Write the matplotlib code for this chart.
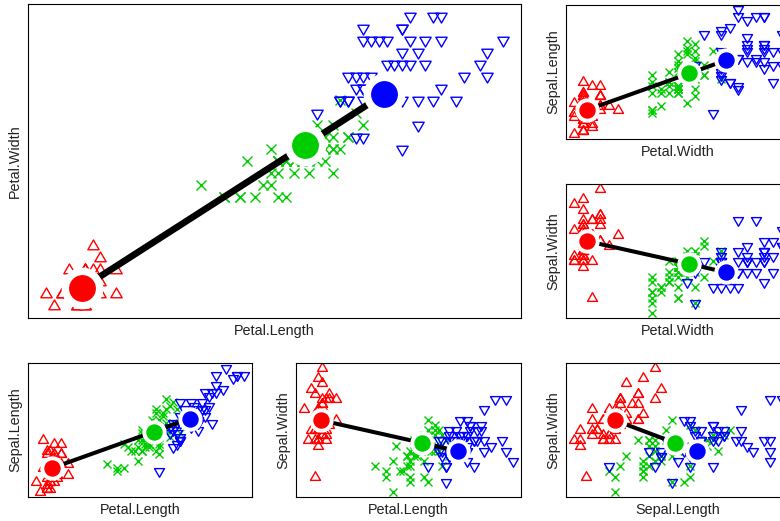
"""Iris cluster panels: points by species, centroids joined by thick segments"""

import numpy as np
import matplotlib
matplotlib.use("Agg")
import matplotlib.pyplot as plt
from matplotlib.path import Path

plt.rcParams['font.family'] = ['Liberation Sans', 'DejaVu Sans']

# iris measurements, rows 1-50 setosa, 51-100 versicolor, 101-150 virginica
sepal_length = [
    5.1, 4.9, 4.7, 4.6, 5.0, 5.4, 4.6, 5.0, 4.4, 4.9, 5.4, 4.8, 4.8, 4.3, 5.8, 5.7, 5.4, 5.1, 5.7, 5.1,
    5.4, 5.1, 4.6, 5.1, 4.8, 5.0, 5.0, 5.2, 5.2, 4.7, 4.8, 5.4, 5.2, 5.5, 4.9, 5.0, 5.5, 4.9, 4.4, 5.1,
    5.0, 4.5, 4.4, 5.0, 5.1, 4.8, 5.1, 4.6, 5.3, 5.0,
    7.0, 6.4, 6.9, 5.5, 6.5, 5.7, 6.3, 4.9, 6.6, 5.2, 5.0, 5.9, 6.0, 6.1, 5.6, 6.7, 5.6, 5.8, 6.2, 5.6,
    5.9, 6.1, 6.3, 6.1, 6.4, 6.6, 6.8, 6.7, 6.0, 5.7, 5.5, 5.5, 5.8, 6.0, 5.4, 6.0, 6.7, 6.3, 5.6, 5.5,
    5.5, 6.1, 5.8, 5.0, 5.6, 5.7, 5.7, 6.2, 5.1, 5.7,
    6.3, 5.8, 7.1, 6.3, 6.5, 7.6, 4.9, 7.3, 6.7, 7.2, 6.5, 6.4, 6.8, 5.7, 5.8, 6.4, 6.5, 7.7, 7.7, 6.0,
    6.9, 5.6, 7.7, 6.3, 6.7, 7.2, 6.2, 6.1, 6.4, 7.2, 7.4, 7.9, 6.4, 6.3, 6.1, 7.7, 6.3, 6.4, 6.0, 6.9,
    6.7, 6.9, 5.8, 6.8, 6.7, 6.7, 6.3, 6.5, 6.2, 5.9,
]
sepal_width = [
    3.5, 3.0, 3.2, 3.1, 3.6, 3.9, 3.4, 3.4, 2.9, 3.1, 3.7, 3.4, 3.0, 3.0, 4.0, 4.4, 3.9, 3.5, 3.8, 3.8,
    3.4, 3.7, 3.6, 3.3, 3.4, 3.0, 3.4, 3.5, 3.4, 3.2, 3.1, 3.4, 4.1, 4.2, 3.1, 3.2, 3.5, 3.6, 3.0, 3.4,
    3.5, 2.3, 3.2, 3.5, 3.8, 3.0, 3.8, 3.2, 3.7, 3.3,
    3.2, 3.2, 3.1, 2.3, 2.8, 2.8, 3.3, 2.4, 2.9, 2.7, 2.0, 3.0, 2.2, 2.9, 2.9, 3.1, 3.0, 2.7, 2.2, 2.5,
    3.2, 2.8, 2.5, 2.8, 2.9, 3.0, 2.8, 3.0, 2.9, 2.6, 2.4, 2.4, 2.7, 2.7, 3.0, 3.4, 3.1, 2.3, 3.0, 2.5,
    2.6, 3.0, 2.6, 2.3, 2.7, 3.0, 2.9, 2.9, 2.5, 2.8,
    3.3, 2.7, 3.0, 2.9, 3.0, 3.0, 2.5, 2.9, 2.5, 3.6, 3.2, 2.7, 3.0, 2.5, 2.8, 3.2, 3.0, 3.8, 2.6, 2.2,
    3.2, 2.8, 2.8, 2.7, 3.3, 3.2, 2.8, 3.0, 2.8, 3.0, 2.8, 3.8, 2.8, 2.8, 2.6, 3.0, 3.4, 3.1, 3.0, 3.1,
    3.1, 3.1, 2.7, 3.2, 3.3, 3.0, 2.5, 3.0, 3.4, 3.0,
]
petal_length = [
    1.4, 1.4, 1.3, 1.5, 1.4, 1.7, 1.4, 1.5, 1.4, 1.5, 1.5, 1.6, 1.4, 1.1, 1.2, 1.5, 1.3, 1.4, 1.7, 1.5,
    1.7, 1.5, 1.0, 1.7, 1.9, 1.6, 1.6, 1.5, 1.4, 1.6, 1.6, 1.5, 1.5, 1.4, 1.5, 1.2, 1.3, 1.4, 1.3, 1.5,
    1.3, 1.3, 1.3, 1.6, 1.9, 1.4, 1.6, 1.4, 1.5, 1.4,
    4.7, 4.5, 4.9, 4.0, 4.6, 4.5, 4.7, 3.3, 4.6, 3.9, 3.5, 4.2, 4.0, 4.7, 3.6, 4.4, 4.5, 4.1, 4.5, 3.9,
    4.8, 4.0, 4.9, 4.7, 4.3, 4.4, 4.8, 5.0, 4.5, 3.5, 3.8, 3.7, 3.9, 5.1, 4.5, 4.5, 4.7, 4.4, 4.1, 4.0,
    4.4, 4.6, 4.0, 3.3, 4.2, 4.2, 4.2, 4.3, 3.0, 4.1,
    6.0, 5.1, 5.9, 5.6, 5.8, 6.6, 4.5, 6.3, 5.8, 6.1, 5.1, 5.3, 5.5, 5.0, 5.1, 5.3, 5.5, 6.7, 6.9, 5.0,
    5.7, 4.9, 6.7, 4.9, 5.7, 6.0, 4.8, 4.9, 5.6, 5.8, 6.1, 6.4, 5.6, 5.1, 5.6, 6.1, 5.6, 5.5, 4.8, 5.4,
    5.6, 5.1, 5.1, 5.9, 5.7, 5.2, 5.0, 5.2, 5.4, 5.1,
]
petal_width = [
    0.2, 0.2, 0.2, 0.2, 0.2, 0.4, 0.3, 0.2, 0.2, 0.1, 0.2, 0.2, 0.1, 0.1, 0.2, 0.4, 0.4, 0.3, 0.3, 0.3,
    0.2, 0.4, 0.2, 0.5, 0.2, 0.2, 0.4, 0.2, 0.2, 0.2, 0.2, 0.4, 0.1, 0.2, 0.2, 0.2, 0.2, 0.1, 0.2, 0.2,
    0.3, 0.3, 0.2, 0.6, 0.4, 0.3, 0.2, 0.2, 0.2, 0.2,
    1.4, 1.5, 1.5, 1.3, 1.5, 1.3, 1.6, 1.0, 1.3, 1.4, 1.0, 1.5, 1.0, 1.4, 1.3, 1.4, 1.5, 1.0, 1.5, 1.1,
    1.8, 1.3, 1.5, 1.2, 1.3, 1.4, 1.4, 1.7, 1.5, 1.0, 1.1, 1.0, 1.2, 1.6, 1.5, 1.6, 1.5, 1.3, 1.3, 1.3,
    1.2, 1.4, 1.2, 1.0, 1.3, 1.2, 1.3, 1.3, 1.1, 1.3,
    2.5, 1.9, 2.1, 1.8, 2.2, 2.1, 1.7, 1.8, 1.8, 2.5, 2.0, 1.9, 2.1, 2.0, 2.4, 2.3, 1.8, 2.2, 2.3, 1.5,
    2.3, 2.0, 2.0, 1.8, 2.1, 1.8, 1.8, 1.8, 2.1, 1.6, 1.9, 2.0, 2.2, 1.5, 1.4, 2.3, 2.4, 1.8, 1.8, 2.1,
    2.4, 2.3, 1.9, 2.3, 2.5, 2.3, 1.9, 2.0, 2.3, 1.8,
]
species = [0] * 50 + [1] * 50 + [2] * 50

# cluster centres (red, green, blue)
centre_sepal_length = [5.00, 6.05, 6.43]
centre_sepal_width = [3.39, 2.95, 2.79]
centre_petal_length = [1.46, 4.34, 5.36]
centre_petal_width = [0.25, 1.43, 1.85]

# which centres are joined by a segment
links = [(0, 1), (1, 2)]

colours = ["#FF0000", "#00CD00", "#0000FF"]

W, H = 780, 521


def tri_marker(up=True):
    '''Closed equilateral triangle like R pch 2 / pch 6'''
    s = 1 if up else -1
    verts = [(0, s * 1.0), (-0.866, -s * 0.5), (0.866, -s * 0.5), (0, s * 1.0)]
    return Path(verts, closed=True)


def add_panel(fig, box, xvar, yvar, big=False):
    '''One scatter panel; box is (left, top, right, bottom) in pixels from the top left'''

    left, top, right, bottom = box
    ax = fig.add_axes([left / W, 1 - bottom / H, (right - left) / W, (bottom - top) / H])

    x = np.array(data[xvar])
    y = np.array(data[yvar])
    sp = np.array(species)

    tri = 9.4 if big else 8.3
    cross = 7.2 if big else 5.8
    styles = [dict(marker=tri_marker(True), ms=tri),
              dict(marker="x", ms=cross),
              dict(marker=tri_marker(False), ms=tri)]

    for k in range(3):
        ax.plot(x[sp == k], y[sp == k], ls="none", mfc="none", mec=colours[k],
                mew=1.0, **styles[k])

    cx = centres[xvar]
    cy = centres[yvar]

    # segments between neighbouring centres
    lw = 4.8 if big else 2.9
    for a, b in links:
        ax.plot([cx[a], cx[b]], [cy[a], cy[b]], color="black", lw=lw,
                solid_capstyle="butt", zorder=3)

    # white halo then the filled centre
    halo = 29 if big else 16.5
    dot = 18.3 if big else 10.8
    for k in range(3):
        ax.plot(cx[k], cy[k], "o", ms=halo, mfc="white", mec="white", zorder=4)
        ax.plot(cx[k], cy[k], "o", ms=dot, mfc=colours[k], mec=colours[k], zorder=5)

    # R style limits: range widened by 4 %
    for vals, setter in ((x, ax.set_xlim), (y, ax.set_ylim)):
        lo, hi = vals.min(), vals.max()
        pad = 0.04 * (hi - lo)
        setter(lo - pad, hi + pad)

    ax.set_xticks([])
    ax.set_yticks([])
    for sp_ in ax.spines.values():
        sp_.set_linewidth(0.8)
        sp_.set_color("black")

    ax.annotate(xvar, xy=(0.5, 0), xycoords="axes fraction", xytext=(0, -13),
                textcoords="offset pixels", ha="center", va="center", fontsize=10.4,
                color="#222222")
    ax.annotate(yvar, xy=(0, 0.5), xycoords="axes fraction", xytext=(-13, 0),
                textcoords="offset pixels", ha="center", va="center", fontsize=10.4,
                rotation=90, color="#222222")
    return ax


data = {
    "Sepal.Length": sepal_length,
    "Sepal.Width": sepal_width,
    "Petal.Length": petal_length,
    "Petal.Width": petal_width,
}
centres = {
    "Sepal.Length": centre_sepal_length,
    "Sepal.Width": centre_sepal_width,
    "Petal.Length": centre_petal_length,
    "Petal.Width": centre_petal_width,
}


def main():
    fig = plt.figure(figsize=(W / 100, H / 100), dpi=100)

    add_panel(fig, (28, 4, 521, 318), "Petal.Length", "Petal.Width", big=True)
    add_panel(fig, (566, 4.5, 790, 139), "Petal.Width", "Sepal.Length")
    add_panel(fig, (566, 184, 790, 318), "Petal.Width", "Sepal.Width")
    add_panel(fig, (28, 363, 252, 497), "Petal.Length", "Sepal.Length")
    add_panel(fig, (296, 363, 521, 497), "Petal.Length", "Sepal.Width")
    add_panel(fig, (566, 363, 790, 497), "Sepal.Length", "Sepal.Width")

    fig.savefig("out.png", dpi=100)


if __name__ == "__main__":
    main()
